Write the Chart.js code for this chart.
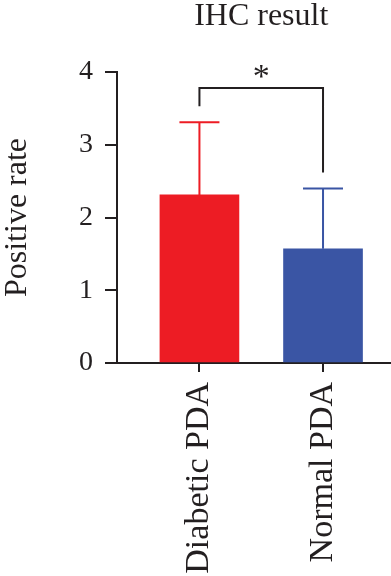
<!DOCTYPE html>
<html>
<head>
<meta charset="utf-8">
<script src="https://cdn.jsdelivr.net/npm/chart.js@4"></script>
<style>
  body { margin: 0; background: #fff; }
  #wrap { width: 391px; height: 576px; position: relative; }
</style>
</head>
<body>
<div id="wrap"><canvas id="ihc-chart"></canvas></div>
<script>
// data
const categories = ['Diabetic PDA', 'Normal PDA'];
const means = [2.31, 1.57];
const sds = [1.00, 0.83];
const yTicks = [0, 1, 2, 3, 4];
const titleText = 'IHC result';
const yTitle = 'Positive rate';
const sigLabel = '*';
const sigLevel = 3.78;   // height of the bracket
const sigGap = 0.22;     // gap between bracket legs and error caps

const ink = '#231F20';
const barColors = ['#ED1C24', '#3A55A4'];
const serif = "'Liberation Serif', 'DejaVu Serif', serif";

// error bars + significance bracket + title
const extrasPlugin = {
    id: 'extras',
    afterDatasetsDraw(chart) {
        const ctx = chart.ctx;
        const xs = chart.scales.x, ys = chart.scales.y;
        ctx.save();
        ctx.lineWidth = 2;
        means.forEach((m, i) => {
            const x = xs.getPixelForValue(i);
            const yTop = ys.getPixelForValue(m + sds[i]);
            const yBar = ys.getPixelForValue(m);
            ctx.strokeStyle = barColors[i];
            ctx.beginPath();
            ctx.moveTo(x, yBar);
            ctx.lineTo(x, yTop);
            ctx.moveTo(x - 20, yTop);
            ctx.lineTo(x + 20, yTop);
            ctx.stroke();
        });

        // bracket
        const x0 = xs.getPixelForValue(0), x1 = xs.getPixelForValue(1);
        const yb = ys.getPixelForValue(sigLevel);
        ctx.strokeStyle = ink;
        ctx.beginPath();
        ctx.moveTo(x0, ys.getPixelForValue(means[0] + sds[0] + sigGap));
        ctx.lineTo(x0, yb);
        ctx.lineTo(x1, yb);
        ctx.lineTo(x1, ys.getPixelForValue(means[1] + sds[1] + sigGap));
        ctx.stroke();

        ctx.fillStyle = ink;
        ctx.textAlign = 'center';
        ctx.textBaseline = 'alphabetic';
        ctx.font = '34px ' + serif;
        ctx.fillText(sigLabel, (x0 + x1) / 2, yb - 1);

        ctx.textBaseline = 'middle';
        ctx.font = '32px ' + serif;
        ctx.fillText(titleText, (x0 + x1) / 2, 17);
        ctx.restore();
    }
};

const ctx = document.getElementById('ihc-chart').getContext('2d');
new Chart(ctx, {
    type: 'bar',
    data: {
        labels: categories,
        datasets: [{
            data: means.map((v, i) => ({ x: i, y: v })),
            backgroundColor: barColors,
            borderWidth: 0,
            barThickness: 79
        }]
    },
    options: {
        responsive: true,
        maintainAspectRatio: false,
        animation: false,
        layout: { padding: { top: 72, left: 0, right: 0, bottom: 0 } },
        plugins: { legend: { display: false }, tooltip: { enabled: false }, title: { display: false } },
        scales: {
            x: {
                type: 'linear',
                offset: false,
                min: -0.667,
                max: 1.55,
                afterBuildTicks: s => { s.ticks = categories.map((c, i) => ({ value: i })); },
                afterFit: s => { s.height = 213; },
                ticks: {
                    callback: v => categories[v],
                    minRotation: 90,
                    maxRotation: 90,
                    autoSkip: false,
                    padding: 10,
                    color: ink,
                    font: { family: serif, size: 34 }
                },
                grid: { offset: false, drawOnChartArea: false, drawTicks: true, tickLength: 9, color: ink, lineWidth: 2 },
                border: { display: true, color: ink, width: 2 }
            },
            y: {
                min: 0,
                max: 4,
                afterBuildTicks: s => { s.ticks = yTicks.map(v => ({ value: v })); },
                afterFit: s => { s.width = 117; },
                ticks: {
                    padding: 12,
                    color: ink,
                    font: { family: serif, size: 28 }
                },
                grid: { drawOnChartArea: false, drawTicks: true, tickLength: 12, color: ink, lineWidth: 2 },
                border: { display: true, color: ink, width: 2 },
                title: {
                    display: true,
                    text: yTitle,
                    color: ink,
                    padding: 0,
                    font: { family: serif, size: 32, lineHeight: 1.1 }
                }
            }
        }
    },
    plugins: [extrasPlugin]
});
</script>
</body>
</html>
